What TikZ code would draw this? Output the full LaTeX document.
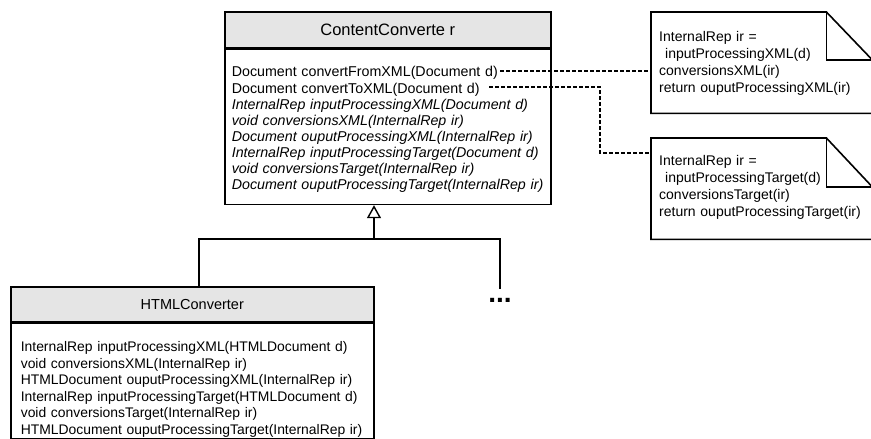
\documentclass[tikz,border=0pt]{standalone}
\usepackage{fontspec}
\setmainfont{Liberation Sans}
\usetikzlibrary{arrows.meta,positioning}

\begin{document}
\begin{tikzpicture}[
        x=1pt, y=-1pt,
        classhead/.style={rectangle,draw,line width=1.6pt,fill=black!10,minimum height=36pt,inner sep=0pt,anchor=north west},
        classbody/.style={rectangle,draw,line width=1.6pt,align=left,inner ysep=2pt,font=\fontsize{14.25}{16.14}\selectfont},
        notebox/.style={rectangle,align=left,anchor=north west,text width=205pt,inner xsep=8pt,inner ysep=2pt,font=\fontsize{14}{17}\selectfont},
        noteshape/.style={line width=1.6pt,line join=miter},
        noteline/.style={line width=1.4pt,dash pattern=on 4pt off 2pt},
        genline/.style={line width=1.4pt}
    ]
        \useasboundingbox (0,0) rectangle (871,439);

        \node[classhead,minimum width=326pt,font=\fontsize{16.5}{18}\selectfont] (cchead) at (224,11) {ContentConverte r};
        \node[classbody,below=0pt of cchead,text width=312pt,inner xsep=7pt] (ccbody) {\rule{0pt}{25.5pt}Document convertFromXML(Document d)\\Document convertToXML(Document d)\\\textit{InternalRep inputProcessingXML(Document d)}\\\textit{void conversionsXML(InternalRep ir)}\\\textit{Document ouputProcessingXML(InternalRep ir)}\\\textit{InternalRep inputProcessingTarget(Document d)}\\\textit{void conversionsTarget(InternalRep ir)}\\\textit{Document ouputProcessingTarget(InternalRep ir)}\rule[-12.5pt]{0pt}{0pt}};

        \node[classhead,minimum width=363pt,minimum height=35pt,font=\fontsize{14.5}{16}\selectfont] (hhead) at (10,286) {HTMLConverter};
        \node[classbody,below=0pt of hhead,text width=343pt,inner xsep=10pt,inner ysep=1.5pt,font=\fontsize{13.9}{16.5}\selectfont] (hbody) {\rule{0pt}{27pt}InternalRep inputProcessingXML(HTMLDocument d)\\void conversionsXML(InternalRep ir)\\HTMLDocument ouputProcessingXML(InternalRep ir)\\InternalRep inputProcessingTarget(HTMLDocument d)\\void conversionsTarget(InternalRep ir)\\HTMLDocument ouputProcessingTarget(InternalRep ir)};

        \node[font=\bfseries\fontsize{28}{28}\selectfont,inner sep=0pt,anchor=north,text height=13pt] (more) at (500,289) {...};

        \node[notebox] (note1) at (651,12) {\rule{0pt}{27.5pt}InternalRep ir =\\\hspace*{6pt}inputProcessingXML(d)\\conversionsXML(ir)\\return ouputProcessingXML(ir)\rule[-18.5pt]{0pt}{0pt}};
        \node[notebox] (note2) at (651,138) {\rule{0pt}{25.5pt}InternalRep ir =\\\hspace*{6pt}inputProcessingTarget(d)\\conversionsTarget(ir)\\return ouputProcessingTarget(ir)\rule[-20.5pt]{0pt}{0pt}};

        \draw[noteshape] (note1.north west) -- ([xshift=-46pt]note1.north east) -- ([yshift=-48pt]note1.north east) -- (note1.south east) -- (note1.south west) -- cycle;
        \draw[noteshape] ([xshift=-46pt]note1.north east) |- ([yshift=-48pt]note1.north east);
        \draw[noteshape] (note2.north west) -- ([xshift=-46pt]note2.north east) -- ([yshift=-49pt]note2.north east) -- (note2.south east) -- (note2.south west) -- cycle;
        \draw[noteshape] ([xshift=-46pt]note2.north east) |- ([yshift=-49pt]note2.north east);

        \coordinate (from1) at (500,71);
        \coordinate (to1) at (489,87);
        \coordinate (bend2) at (600,153);
        \draw[noteline] (from1) -- (from1 -| note1.west);
        \draw[noteline] (to1) -| (bend2) -- (bend2 -| note2.west);

        \coordinate (gen) at (374,239);
        \draw[genline,-{Triangle[open,length=13pt,width=14pt]}] (gen) -- (gen |- ccbody.south);
        \draw[genline] ([xshift=6.5pt]hhead.north) |- (gen) -| (more.north);
    \end{tikzpicture}
\end{document}
